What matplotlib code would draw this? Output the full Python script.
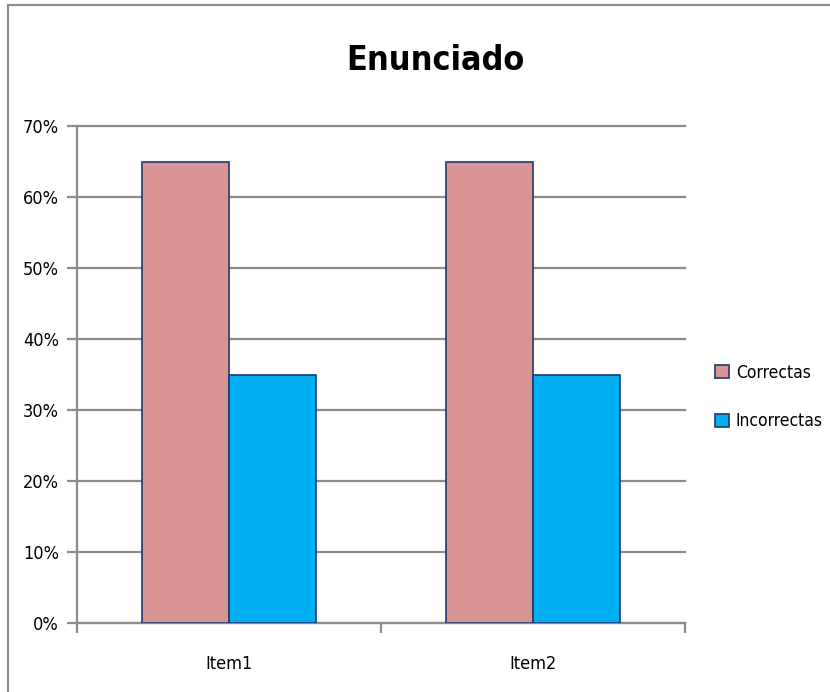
import matplotlib.pyplot as plt
from matplotlib.lines import Line2D
from matplotlib.patches import Patch
import numpy as np

# Datos del gráfico
items = ["Item1", "Item2"]
correctas = [0.65, 0.65]
incorrectas = [0.35, 0.35]
yticks = [0, 0.1, 0.2, 0.3, 0.4, 0.5, 0.6, 0.7]

plt.rcParams['font.family'] = ['DejaVu Sans']
plt.rcParams['font.stretch'] = 'condensed'

fig = plt.figure(figsize=(8.3, 6.92), dpi=100)
ax = fig.add_axes([77 / 830, 1 - 623 / 692, 608 / 830, 497 / 692])

grid_col = "#8c8c8c"
edge_col = "#1f3a6e"
w = 0.286
x = np.arange(len(items))

ax.bar(x - w / 2, correctas, w, color="#d99594", edgecolor=edge_col, linewidth=1.2,
       label="Correctas", zorder=3)
ax.bar(x + w / 2, incorrectas, w, color="#00b0f0", edgecolor=edge_col, linewidth=1.2,
       label="Incorrectas", zorder=3)

ax.set_xlim(-0.5, len(items) - 0.5)
ax.set_ylim(0, 0.7)
ax.set_yticks(yticks)
ax.set_yticklabels([f"{int(round(v * 100))}%" for v in yticks], fontsize=13)
ax.yaxis.grid(True, color=grid_col, linewidth=1.6, zorder=0)
for gl in ax.get_ygridlines():
    gl.set_clip_on(False)
ax.tick_params(axis="y", length=7, width=1.6, color=grid_col, pad=6)

# ticks del eje x en los límites de categoría, etiquetas centradas
ax.set_xticks([-0.5, 0.5, 1.5])
ax.set_xticklabels([])
ax.set_xticks(x, minor=True)
ax.set_xticklabels(items, minor=True, fontsize=13)
ax.tick_params(axis="x", which="major", length=7, width=1.6, color=grid_col)
ax.tick_params(axis="x", which="minor", length=0, pad=23)

for side in ["top", "right"]:
    ax.spines[side].set_visible(False)
for side in ["left", "bottom"]:
    ax.spines[side].set_color(grid_col)
    ax.spines[side].set_linewidth(1.6)

fig.text(435 / 830, 1 - 61 / 692, "Enunciado", ha="center", va="center",
         fontsize=24.5, fontweight="bold")

handles = [Patch(facecolor="#d99594", edgecolor=edge_col, linewidth=1.2),
           Patch(facecolor="#00b0f0", edgecolor=edge_col, linewidth=1.2)]
fig.legend(handles, ["Correctas", "Incorrectas"], loc="center left",
           bbox_to_anchor=(715 / 830, 1 - 397 / 692), frameon=False, fontsize=12.5,
           borderpad=0, borderaxespad=0,
           handlelength=0.8, handleheight=0.8, handletextpad=0.4, labelspacing=1.75)

# borde exterior del gráfico
fig.add_artist(Line2D([7.5 / 830, 7.5 / 830], [0, 1 - 5 / 692], color="#8c8c8c", linewidth=1.5))
fig.add_artist(Line2D([7.5 / 830, 1], [1 - 5 / 692, 1 - 5 / 692], color="#8c8c8c", linewidth=1.5))

fig.savefig("out.png", dpi=100)
